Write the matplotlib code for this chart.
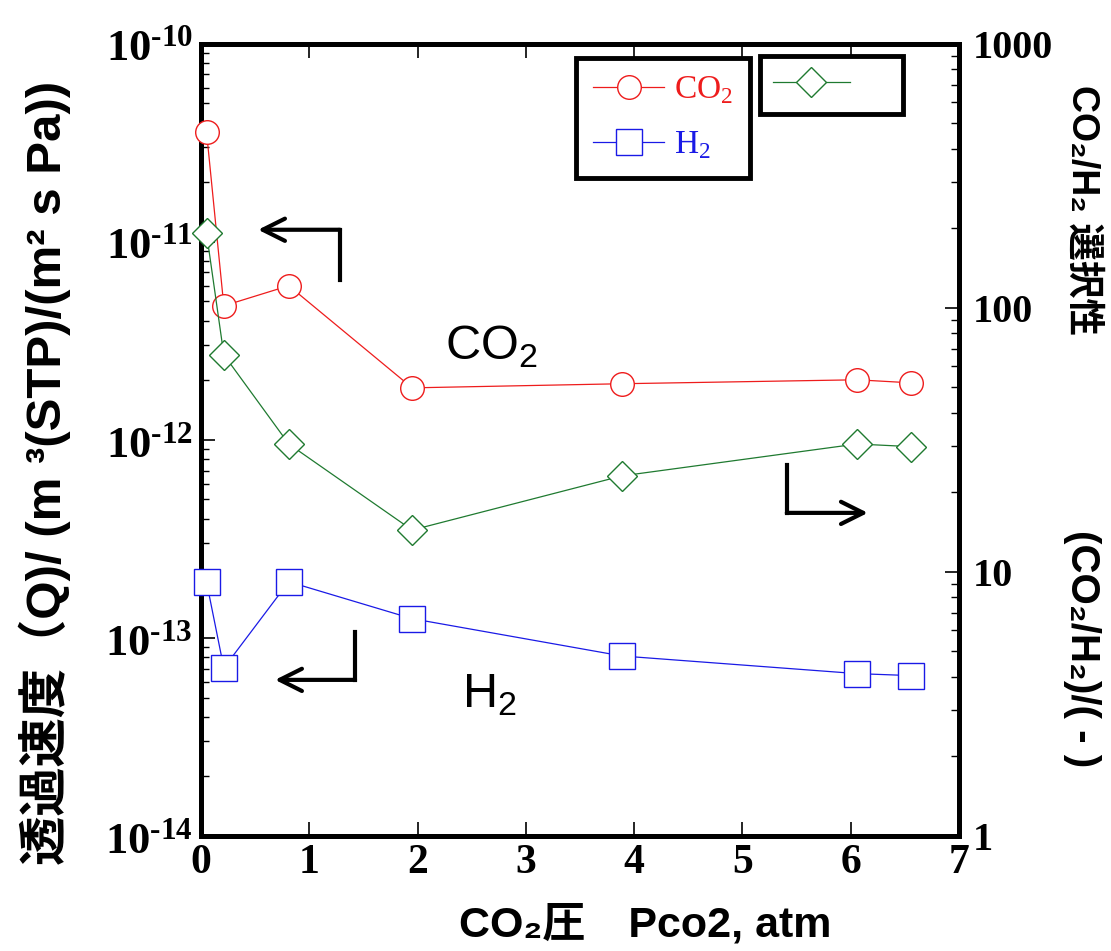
import numpy as np
import matplotlib
matplotlib.use('Agg')
import matplotlib.pyplot as plt
from matplotlib.ticker import FixedLocator, LogLocator, NullFormatter

plt.rcParams['mathtext.fontset'] = 'custom'
plt.rcParams['mathtext.rm'] = 'Liberation Serif'
plt.rcParams['mathtext.bf'] = 'Liberation Serif:bold'
plt.rcParams['mathtext.sf'] = 'Liberation Sans'

JP = ['Liberation Sans', 'Noto Sans CJK JP', 'DejaVu Sans']

# data
pressure = [0.05, 0.21, 0.81, 1.95, 3.89, 6.06, 6.56]
perm_co2 = [3.6e-11, 4.75e-12, 6.0e-12, 1.83e-12, 1.92e-12, 2.01e-12, 1.94e-12]
perm_h2 = [1.92e-13, 7.05e-14, 1.92e-13, 1.25e-13, 8.1e-14, 6.6e-14, 6.45e-14]
selectivity = [192, 66.4, 30.5, 14.4, 23.1, 30.5, 29.8]

left_ticks = [1e-14, 1e-13, 1e-12, 1e-11, 1e-10]
left_labels = ['$\\mathbf{10^{\u2010%d}}$' % e for e in (14, 13, 12, 11, 10)]
right_ticks = [1, 10, 100, 1000]
right_labels = ['1', '10', '100', '1000']
x_ticks = [0, 1, 2, 3, 4, 5, 6, 7]

RED, BLUE, GREEN = '#ee1c1c', '#1a1ae6', '#1f7a30'

fig = plt.figure(figsize=(11.11, 9.51), dpi=100)
ax = fig.add_axes([0.181, 0.121, 0.682, 0.833])
ax2 = ax.twinx()

ax.set_yscale('log')
ax.set_xlim(0, 7)
ax.set_ylim(1e-14, 1e-10)
ax2.set_yscale('log')
ax2.set_ylim(1, 1000)

l_co2, = ax.plot(pressure, perm_co2, '-o', color=RED, lw=0.9, ms=17, mfc='white',
                 mec=RED, mew=1.0, clip_on=False, zorder=5)
l_h2, = ax.plot(pressure, perm_h2, '-s', color=BLUE, lw=0.9, ms=19, mfc='white',
                mec=BLUE, mew=1.0, clip_on=False, zorder=5)
l_sel, = ax2.plot(pressure, selectivity, '-D', color=GREEN, lw=0.9, ms=15.5, mfc='white',
                  mec=GREEN, mew=1.0, clip_on=False, zorder=5)

# spines
for s in ax.spines.values():
    s.set_linewidth(3.6)
for name in ['left', 'top', 'bottom']:
    ax2.spines[name].set_visible(False)
ax.spines['right'].set_visible(False)
ax2.spines['right'].set_linewidth(3.6)

# ticks
ax.xaxis.set_major_locator(FixedLocator(x_ticks))
ax.tick_params(axis='x', which='major', direction='in', length=10, width=1.2,
               top=True, pad=6)
ax.set_xticklabels([str(t) for t in x_ticks], family='Liberation Serif',
                   fontweight='bold', fontsize=30)
ax.yaxis.set_major_locator(FixedLocator(left_ticks))
ax.set_yticklabels(left_labels, fontsize=32)
ax.yaxis.set_minor_locator(LogLocator(base=10, subs=np.arange(2, 10), numticks=20))
ax.yaxis.set_minor_formatter(NullFormatter())
ax.tick_params(axis='y', which='major', direction='in', length=10, width=1.2, pad=6)
ax.tick_params(axis='y', which='minor', direction='in', length=5.5, width=1.0)

ax2.yaxis.set_major_locator(FixedLocator(right_ticks))
ax2.set_yticklabels(right_labels, family='Liberation Serif', fontweight='bold', fontsize=29)
ax2.yaxis.set_minor_locator(LogLocator(base=10, subs=np.arange(2, 10), numticks=20))
ax2.yaxis.set_minor_formatter(NullFormatter())
ax2.tick_params(axis='y', which='major', direction='in', length=10, width=1.2, pad=10)
ax2.tick_params(axis='y', which='minor', direction='in', length=5.5, width=1.0)

# legends
leg1 = ax2.legend([l_co2, l_h2], [r'CO$_\mathrm{2}$', r'H$_\mathrm{2}$'],
                  loc='upper left', bbox_to_anchor=(0.495, 0.982), borderaxespad=0,
                  prop={'family': 'Liberation Serif', 'size': 24}, labelcolor='linecolor',
                  handlelength=2.15, handletextpad=0.28, labelspacing=0.7, borderpad=0.5,
                  fancybox=False, framealpha=1, edgecolor='black')
leg1.get_frame().set_linewidth(3.5)
leg1.set_zorder(10)
ax2.add_artist(leg1)
leg2 = ax2.legend([l_sel], [' '], loc='upper left', bbox_to_anchor=(0.737, 0.984),
                  borderaxespad=0, prop={'family': 'Liberation Serif', 'size': 24},
                  handlelength=2.3, handletextpad=0.95, borderpad=0.4,
                  fancybox=False, framealpha=1, edgecolor='black')
leg2.get_frame().set_linewidth(3.5)
leg2.set_zorder(10)

# gas labels
ax2.text(0.322, 0.601, r'CO$_\mathsf{2}$', transform=ax.transAxes, family='Liberation Sans',
         fontsize=35, ha='left', va='baseline')
ax2.text(0.344, 0.162, r'H$_\mathsf{2}$', transform=ax.transAxes, family='Liberation Sans',
         fontsize=35, ha='left', va='baseline')

# L-shaped arrows (axes fraction)
arrows = [((0.1834, 0.702), (0.1834, 0.7652), (0.0752, 0.7652)),
          ((0.2032, 0.2576), (0.2032, 0.197), (0.0976, 0.197)),
          ((0.773, 0.468), (0.773, 0.4078), (0.880, 0.4078))]
for start, corner, end in arrows:
    ax2.plot([start[0], corner[0]], [start[1], corner[1]], color='black', lw=3,
             transform=ax.transAxes, solid_capstyle='projecting', clip_on=False)
    ax2.annotate('', xy=end, xytext=corner, xycoords=ax.transAxes, textcoords=ax.transAxes,
                 arrowprops=dict(arrowstyle='->', lw=3, color='black', mutation_scale=40,
                                 shrinkA=0, shrinkB=0))

# axis titles
fig.text(0.040, 0.503, '透過速度（Q)/ (m ³(STP)/(m² s Pa))', rotation=90, family=JP,
         fontweight='bold', fontsize=35.5, ha='center', va='center')
fig.text(0.974, 0.779, 'CO₂/H₂ 選択性', rotation=270, family=JP,
         fontweight='bold', fontsize=27, ha='center', va='center')
fig.text(0.974, 0.318, '(CO₂/H₂)/( - )', rotation=270, family=JP,
         fontweight='bold', fontsize=29, ha='center', va='center')
fig.text(0.581, 0.027, 'CO₂圧　Pco2, atm', family=JP, fontweight='bold', fontsize=31,
         ha='center', va='center')

fig.savefig('out.png', dpi=100)
